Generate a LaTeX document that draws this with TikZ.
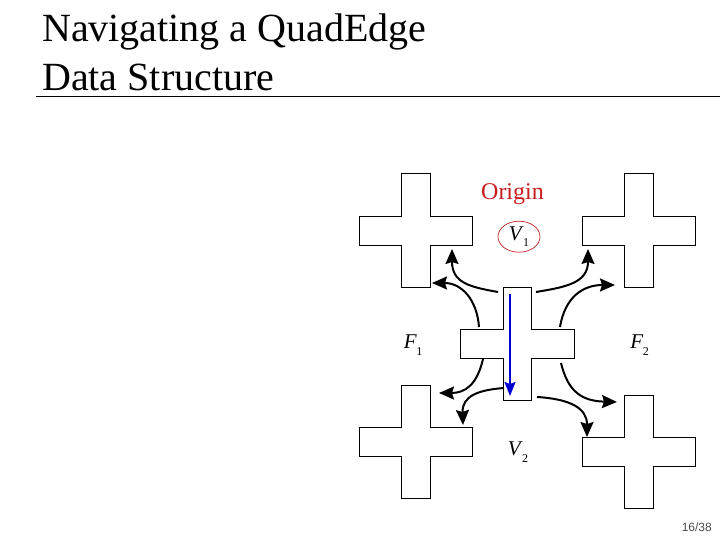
\documentclass[tikz,border=0pt]{standalone}
\usepackage{fontspec}
\setmainfont{Liberation Serif}
\newfontfamily\pagefont{Liberation Sans}
\usetikzlibrary{arrows.meta,shapes.geometric}
\definecolor{origred}{RGB}{200,30,30}
\definecolor{arrblue}{RGB}{0,0,210}
\newcommand\sublab[2]{\textit{#1}\kern-0.5pt\raisebox{-0.3em}{\fontsize{12}{12}\selectfont #2}}
\tikzset{
  crossline/.style={draw=black,line width=0.8pt,fill=white},
  pics/crossshape/.style={code={
    \path[crossline] (-14.2,-56.8) -- (14.2,-56.8) -- (14.2,-14.4) -- (56.8,-14.4) -- (56.8,14.4) -- (14.2,14.4) -- (14.2,56.8) -- (-14.2,56.8) -- (-14.2,14.4) -- (-56.8,14.4) -- (-56.8,-14.4) -- (-14.2,-14.4) -- cycle;
  }},
  navarrow/.style={line width=2pt,-{Stealth[length=15pt,width=13pt,inset=2pt]}},
  bluearrow/.style={line width=2pt,draw=arrblue,-{Stealth[length=14pt,width=11pt,inset=2pt]}},
  lab/.style={inner sep=0pt,font=\fontsize{21}{21}\selectfont},
  titletext/.style={anchor=base west,inner sep=0pt,font=\fontsize{40}{40}\selectfont}
}
\begin{document}
\begin{tikzpicture}[x=1pt,y=-1pt]
\useasboundingbox (0,0) rectangle (720,540);
% title
\node[titletext] (t1) at (42,41.7) {Navigating a QuadEdge};
\node[titletext] (t2) at (42,90.7) {Data Structure};
\coordinate (rl) at (36,96.5);
\coordinate (rr) at (720,96.5);
\draw[line width=0.9pt] (rl) -- (rr);
% crosses
\pic at (416,230.5) {crossshape};
\pic at (639,230.5) {crossshape};
\pic at (517.5,344) {crossshape};
\pic at (416,442) {crossshape};
\pic at (639,452) {crossshape};
% labels
\node[inner sep=0pt,text=origred,font=\fontsize{24}{24}\selectfont,anchor=base] (orig) at (512.5,200) {Origin};
\node[lab] (v1) at (519,236.5) {\sublab{V}{1}};
\node[draw=origred,line width=0.7pt,ellipse,minimum width=42pt,minimum height=31pt] (ell) at (519,236.7) {};
\node[lab] (f1) at (413,345) {\sublab{F}{1}};
\node[lab] (f2) at (639.5,345) {\sublab{F}{2}};
\node[lab] (v2) at (518,452) {\sublab{V}{2}};
% arrow endpoints
\coordinate (a1s) at (479,327);   \coordinate (a1e) at (432,283);
\coordinate (a2s) at (498,292);   \coordinate (a2e) at (452,249);
\coordinate (a3s) at (536,292);   \coordinate (a3e) at (588,249);
\coordinate (a4s) at (560,327);   \coordinate (a4e) at (615,285);
\coordinate (a5s) at (483,359);   \coordinate (a5e) at (439,393);
\coordinate (a6s) at (504,388);   \coordinate (a6e) at (463,425);
\coordinate (a7s) at (537,397);   \coordinate (a7e) at (587,437);
\coordinate (a8s) at (561,363);   \coordinate (a8e) at (617,402);
\coordinate (bs) at (510,294);    \coordinate (be) at (510,396);
% arrows
\draw[navarrow] (a1s) .. controls (477,300) and (462,283) .. (a1e);
\draw[navarrow] (a2s) .. controls (470,287) and (452,283) .. (a2e);
\draw[navarrow] (a3s) .. controls (566,287) and (588,283) .. (a3e);
\draw[navarrow] (a4s) .. controls (565,297) and (583,285) .. (a4e);
\draw[navarrow] (a5s) .. controls (477,385) and (465,393) .. (a5e);
\draw[navarrow] (a6s) .. controls (478,390) and (462,396) .. (a6e);
\draw[navarrow] (a7s) .. controls (570,399) and (587,408) .. (a7e);
\draw[navarrow] (a8s) .. controls (568,392) and (582,401) .. (a8e);
\draw[bluearrow] (bs) -- (be);
% page number
\node[anchor=base east,inner sep=0pt,text=black!70,font=\pagefont\fontsize{12}{12}\selectfont] (pg) at (712,531.7) {16/38};
\end{tikzpicture}
\end{document}
